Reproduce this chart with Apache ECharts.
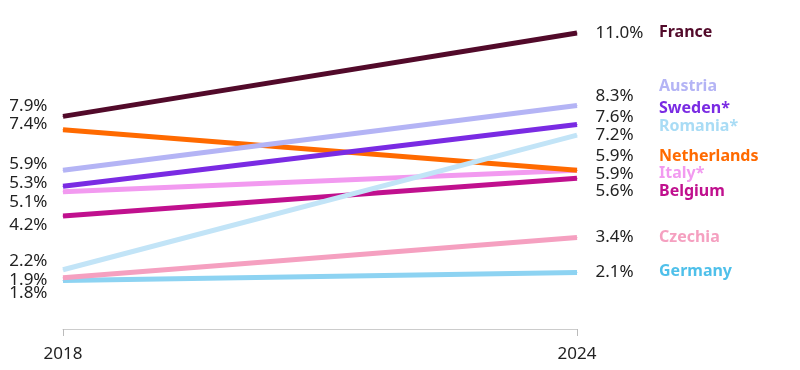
<!DOCTYPE html>
<html>
<head>
<meta charset="utf-8">
<script src="https://cdn.jsdelivr.net/npm/echarts@6/dist/echarts.min.js"></script>
<style>
html,body{margin:0;padding:0;background:#fff;}
#chart{width:800px;height:370px;}
</style>
</head>
<body>
<div id="chart"></div>
<script>
const years = ['2018', '2024'];
const countries = ['France', 'Austria', 'Sweden*', 'Romania*', 'Netherlands', 'Italy*', 'Belgium', 'Czechia', 'Germany'];
const values2018 = [7.9, 5.9, 5.3, 2.2, 7.4, 5.1, 4.2, 1.9, 1.8];
const values2024 = [11.0, 8.3, 7.6, 7.2, 5.9, 5.9, 5.6, 3.4, 2.1];
const colors = ['#520a2a', '#b4b4f5', '#7a2be3', '#c2e4f7', '#ff6a00', '#f29af0', '#c0108e', '#f5a0c0', '#8dd3f2'];
const nameColors = ['#520a2a', '#b4b4f5', '#7a2be3', '#a9dcf5', '#ff6a00', '#f29af0', '#c0108e', '#f5a0c0', '#4fc0ea'];
// label vertical nudges (px) to avoid overlaps
const startDy = [-10, -6, -3, -9, -6, 10, 9, 2, 13];
const endDy = [0, -9, -7, 0, -14, 4, 13, 0, 0];
const nameDy = [0, -10, -9, -9, 0, -1, 0, 0, -1];

const numFont = "'Noto Sans', sans-serif";
const nameFont = "'Noto Sans', sans-serif";

const series = countries.map((c, i) => ({
  name: c,
  type: 'line',
  symbol: 'circle',
  symbolSize: 1,
  showSymbol: true,
  silent: true,
  itemStyle: { color: colors[i] },
  lineStyle: { color: colors[i], width: 5, cap: 'butt' },
  labelLayout: (p) => ({ dy: p.dataIndex === 0 ? startDy[i] : endDy[i], hideOverlap: false }),
  data: [
    { value: values2018[i], label: { show: true, position: 'left', distance: 15,
      formatter: (p) => p.value.toFixed(1) + '%', color: '#222', fontFamily: numFont, fontSize: 17 } },
    { value: values2024[i], label: { show: true, position: 'right', distance: 18,
      formatter: (p) => p.value.toFixed(1) + '%', color: '#222', fontFamily: numFont, fontSize: 17 } }
  ],
  endLabel: {
    show: true, distance: 82, offset: [0, nameDy[i]],
    formatter: () => c, color: nameColors[i], fontFamily: nameFont, fontWeight: 'bold', fontSize: 16
  },
  z: 10 - i
}));

const chart = echarts.init(document.getElementById('chart'));
chart.setOption({
  animation: false,
  grid: { left: 63, right: 223, top: 6, bottom: 41 },
  xAxis: {
    type: 'category', data: years, boundaryGap: false,
    axisLine: { lineStyle: { color: '#cccccc', width: 1 } },
    axisTick: { show: true, length: 7, lineStyle: { color: '#bbbbbb' } },
    axisLabel: { color: '#222', fontFamily: numFont, fontSize: 17, margin: 17 }
  },
  yAxis: { type: 'value', min: 0, max: 12, show: false, splitLine: { show: false } },
  series: series
});
</script>
</body>
</html>
